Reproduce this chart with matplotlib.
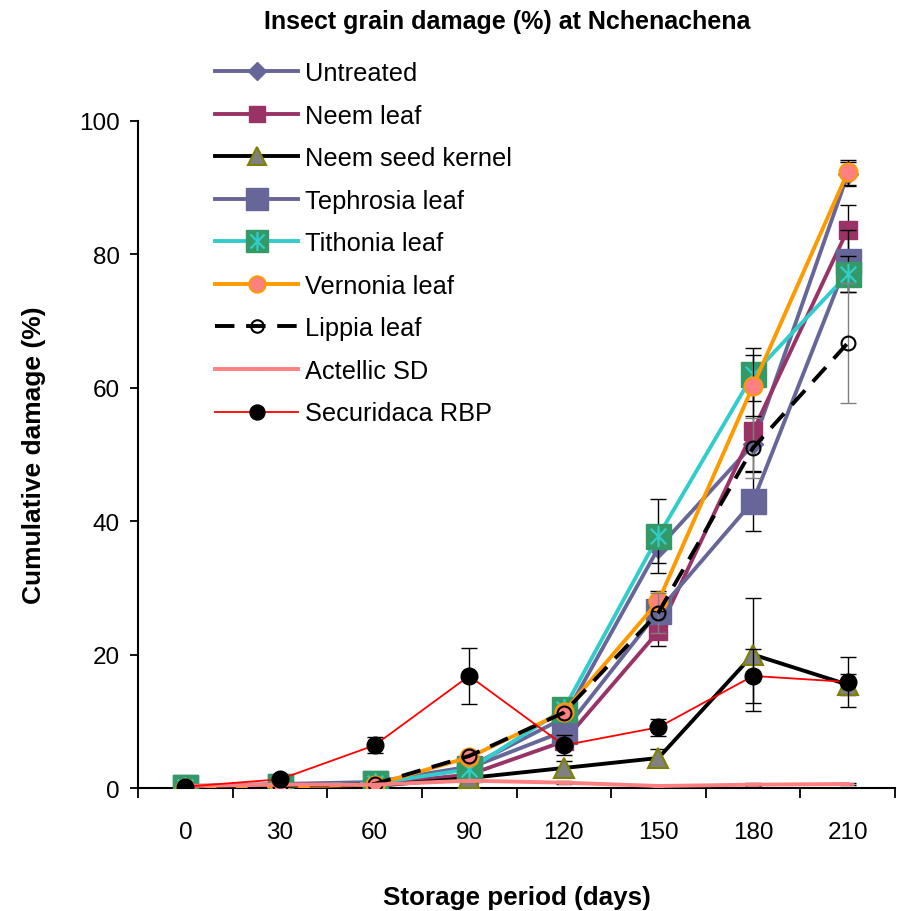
import matplotlib
matplotlib.use('Agg')
import matplotlib.pyplot as plt
import numpy as np
from matplotlib.path import Path
from matplotlib.legend_handler import HandlerTuple

plt.rcParams['font.family'] = ['Liberation Sans', 'DejaVu Sans']

# ---------------- data ----------------
days = [0, 30, 60, 90, 120, 150, 180, 210]
names = ['Untreated', 'Neem leaf', 'Neem seed kernel', 'Tephrosia leaf',
         'Tithonia leaf', 'Vernonia leaf', 'Lippia leaf', 'Actellic SD',
         'Securidaca RBP']

untreated  = [0.3, 0.6, 0.9, 3.2, 10.5, 36.0, 51.5, 92.0]
neem_leaf  = [0.2, 0.3, 0.6, 2.0, 7.0, 23.5, 53.5, 83.7]
neem_seed  = [0.2, 0.2, 0.3, 1.5, 3.0, 4.5, 20.0, 15.5]
tephrosia  = [0.2, 0.3, 0.7, 3.0, 8.5, 26.5, 43.0, 79.0]
tithonia   = [0.2, 0.3, 0.7, 2.8, 11.8, 37.8, 62.0, 77.0]
vernonia   = [0.0, 0.2, 0.5, 4.6, 11.4, 28.0, 60.3, 92.3]
lippia     = [0.0, 0.3, 0.6, 4.8, 11.3, 26.3, 51.0, 66.7]
actellic   = [0.3, 0.5, 0.5, 1.1, 0.8, 0.3, 0.5, 0.6]
securidaca = [0.2, 1.3, 6.4, 16.8, 6.4, 9.1, 16.8, 15.9]

# standard errors (0 = no visible bar)
untreated_err  = [0, 0, 0, 0, 0, 2.3, 0, 1.8]
neem_leaf_err  = [0, 0, 0, 0, 0, 2.2, 6.0, 3.7]
neem_seed_err  = [0, 0, 0, 0, 1.0, 1.3, 8.5, 1.6]
tephrosia_err  = [0, 0, 0, 0, 0, 0, 4.4, 4.6]
tithonia_err   = [0, 0, 0, 0, 0, 5.6, 4.0, 2.7]
vernonia_err   = [0, 0, 0, 0, 0, 1.5, 4.6, 1.9]
lippia_err     = [0, 0, 0, 0, 0, 3.0, 4.5, 9.0]
actellic_err   = [0, 0, 0, 0, 0.2, 0.2, 0.2, 0.2]
securidaca_err = [0, 0, 1.2, 4.2, 1.5, 1.3, 4.0, 3.7]

# ---------------- figure ----------------
W, H = 897, 912
fig = plt.figure(figsize=(W / 100, H / 100), dpi=100)
ax = fig.add_axes([138 / W, 1 - 789 / H, (895 - 138) / W, (789 - 122) / H])

x = np.arange(len(days))

star_path = Path([(0, -1), (0, 1), (-0.75, -0.75), (0.75, 0.75), (-0.75, 0.75), (0.75, -0.75)],
                 [Path.MOVETO, Path.LINETO, Path.MOVETO, Path.LINETO, Path.MOVETO, Path.LINETO])


def errbars(vals, err, z, color='black'):
    idx = [i for i, e in enumerate(err) if e > 0]
    if idx:
        ax.errorbar([x[i] for i in idx], [vals[i] for i in idx], yerr=[err[i] for i in idx],
                    fmt='none', ecolor=color, elinewidth=1.0, capsize=6, capthick=1.0, zorder=z)


handles = []

z = 2
errbars(untreated, untreated_err, z)
h, = ax.plot(x, untreated, color='#666699', lw=2.8, marker='D', ms=10,
             mfc='#666699', mec='#666699', zorder=z + 0.5)
handles.append(h)

z = 3
errbars(neem_leaf, neem_leaf_err, z)
h, = ax.plot(x, neem_leaf, color='#993366', lw=2.8, marker='s', ms=13,
             mfc='#993366', mec='#993366', zorder=z + 0.5)
handles.append(h)

z = 4
errbars(neem_seed, neem_seed_err, z)
h, = ax.plot(x, neem_seed, color='black', lw=2.8, marker='^', ms=15,
             mfc='#808080', mec='#808000', mew=1.5, zorder=z + 0.5)
handles.append(h)

z = 5
errbars(tephrosia, tephrosia_err, z)
h, = ax.plot(x, tephrosia, color='#666699', lw=2.8, marker='s', ms=18,
             mfc='#666699', mec='#666699', zorder=z + 0.5)
handles.append(h)

z = 6
errbars(tithonia, tithonia_err, z)
h1, = ax.plot(x, tithonia, color='#33CCCC', lw=2.8, marker='s', ms=18,
              mfc='#339966', mec='#339966', zorder=z + 0.5)
h2, = ax.plot(x, tithonia, ls='none', marker=star_path, ms=15, mec='#33CCCC',
              mfc='none', mew=1.6, zorder=z + 0.6)
handles.append((h1, h2))

z = 7
errbars(vernonia, vernonia_err, z)
h, = ax.plot(x, vernonia, color='#FF9900', lw=2.8, marker='o', ms=13,
             mfc='#FF8080', mec='#FF9900', mew=1.5, zorder=z + 0.5)
handles.append(h)

z = 8
errbars(lippia, lippia_err, z, color='#808080')
h, = ax.plot(x, lippia, color='black', lw=2.8, ls=(0, (5, 3)), marker='o', ms=10,
             mfc='none', mec='black', mew=1.5, zorder=z + 0.5)
handles.append(h)

z = 9
errbars(actellic, actellic_err, z)
h, = ax.plot(x, actellic, color='#FF8080', lw=2.8, marker='_', ms=8,
             mec='#FF8080', mew=2, zorder=z + 0.5)
handles.append(h)

z = 10
errbars(securidaca, securidaca_err, z)
h, = ax.plot(x, securidaca, color='#FF0000', lw=1.3, marker='o', ms=12,
             mfc='black', mec='black', zorder=z + 0.5)
handles.append(h)

# ---------------- axes ----------------
ax.set_xlim(-0.5, len(days) - 0.5)
ax.set_ylim(0, 100)
ax.set_yticks([0, 20, 40, 60, 80, 100])
ax.set_xticks(x)
ax.set_xticklabels([str(d) for d in days])
ax.set_xticks(np.arange(-0.5, len(days)), minor=True)
ax.tick_params(axis='x', which='major', length=0, pad=24, labelsize=17.5)
ax.tick_params(axis='x', which='minor', length=7, width=1.3, direction='out')
ax.tick_params(axis='y', which='major', length=6, width=1.3, direction='out', labelsize=17.5, pad=7)

for s in ['top', 'right']:
    ax.spines[s].set_visible(False)
for s in ['left', 'bottom']:
    ax.spines[s].set_linewidth(1.5)

ax.set_xlabel('Storage period (days)', fontsize=18.7, fontweight='bold', labelpad=30)
ax.set_ylabel('Cumulative damage (%)', fontsize=19, fontweight='bold', labelpad=24)
fig.text(507 / W, 1 - 22 / H, 'Insect grain damage (%) at Nchenachena', ha='center', va='center',
         fontsize=18, fontweight='bold')

leg = fig.legend(handles, names, loc='upper left', bbox_to_anchor=(215 / W, 1 - 62 / H),
                 frameon=False, fontsize=18.3, handlelength=3.27, handletextpad=0.28,
                 labelspacing=0.73, borderpad=0, borderaxespad=0, markerscale=0.9,
                 handler_map={tuple: HandlerTuple(ndivide=1)})

fig.savefig('out.png', dpi=100)
